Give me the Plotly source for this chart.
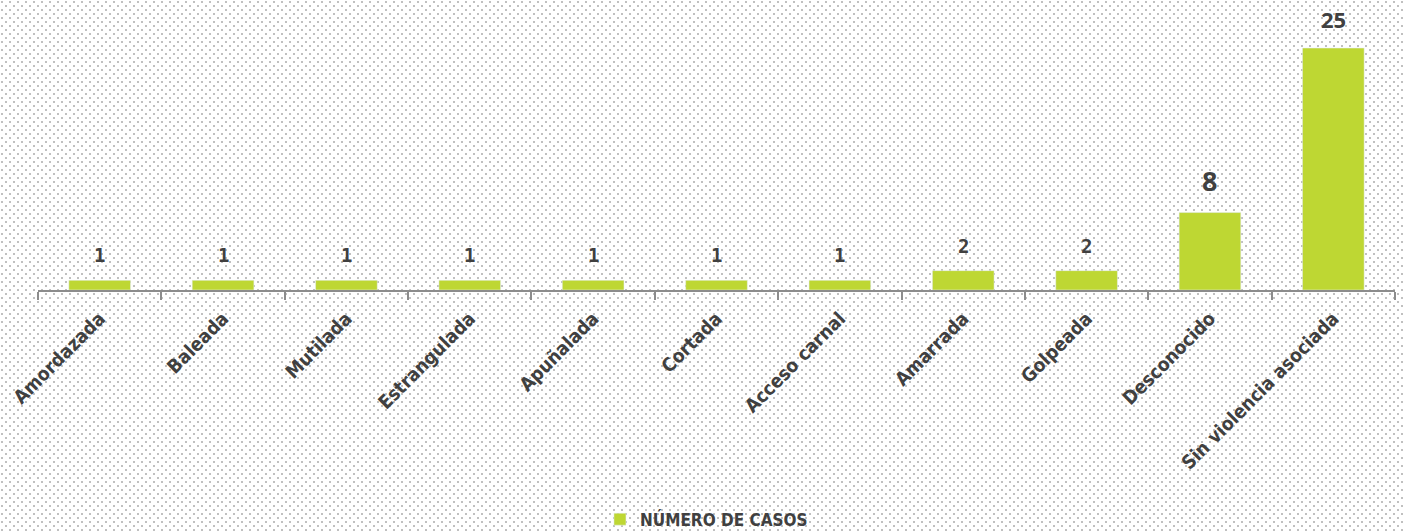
import base64
import plotly.graph_objects as go

categories = ["Amordazada", "Baleada", "Mutilada", "Estrangulada", "Apuñalada", "Cortada",
              "Acceso carnal", "Amarrada", "Golpeada", "Desconocido", "Sin violencia asociada"]
casos = [1, 1, 1, 1, 1, 1, 1, 2, 2, 8, 25]
label_sizes = [19, 19, 19, 19, 19, 19, 19, 19, 19, 27, 22]
series_name = "NÚMERO DE CASOS"

W, H = 1403, 532
ML, MR, MT, MB = 38, 8, 10, 242
PW, PH = W - ML - MR, H - MT - MB

BAR = "#BED733"
TXT = "#404040"
COND = "DejaVu Sans Condensed, DejaVu Sans, sans-serif"

svg = (f'<svg xmlns="http://www.w3.org/2000/svg" width="{W}" height="{H}">'
       '<defs><pattern id="p" width="8" height="8" patternUnits="userSpaceOnUse">'
       '<rect x="1" y="1" width="2" height="2" fill="#c0c0c0"/>'
       '<rect x="5" y="5" width="2" height="2" fill="#c0c0c0"/></pattern></defs>'
       f'<rect width="{W}" height="{H}" fill="white"/>'
       f'<rect width="{W}" height="{H}" fill="url(#p)"/></svg>')
src = "data:image/svg+xml;base64," + base64.b64encode(svg.encode()).decode()

fig = go.Figure()
fig.add_trace(go.Bar(x=categories, y=casos, name=series_name, marker_color=BAR,
                     width=0.5, showlegend=True))

for c, v, s in zip(categories, casos, label_sizes):
    fam = "DejaVu Sans Mono" if v < 8 else "Open Sans"
    fig.add_annotation(x=c, y=v, text=f"<b>{v}</b>", showarrow=False, yanchor="bottom",
                       yshift=12, font=dict(family=fam, size=s, color=TXT))

fig.update_layout(
    width=W, height=H,
    margin=dict(l=ML, r=MR, t=MT, b=MB, pad=0, autoexpand=False),
    paper_bgcolor="white", plot_bgcolor="rgba(0,0,0,0)",
    images=[dict(source=src, xref="paper", yref="paper", x=-ML / PW, y=1 + MT / PH,
                 sizex=W / PW, sizey=H / PH, sizing="stretch", layer="below",
                 xanchor="left", yanchor="top")],
    xaxis=dict(type="category", range=[-0.5, len(categories) - 0.5], showline=True,
               linecolor="#8c8c8c", linewidth=2, ticks="outside", tickson="boundaries",
               ticklen=8, tickcolor="#8c8c8c", tickwidth=1.5, tickangle=-45,
               showgrid=False, automargin=False, ticklabelstandoff=8,
               tickfont=dict(family=COND, size=19, color=TXT, weight="bold")),
    yaxis=dict(range=[0, 28.93], visible=False, showgrid=False, zeroline=False),
    legend=dict(orientation="h", x=0.4926, xanchor="center", y=-0.82, yanchor="middle",
                font=dict(family=COND, size=17, color=TXT, weight="bold"),
                bgcolor="rgba(0,0,0,0)"),
    bargap=0.5,
)

fig.write_html("out.html", config={"displayModeBar": False},
               post_script="document.body.style.margin='0';")
